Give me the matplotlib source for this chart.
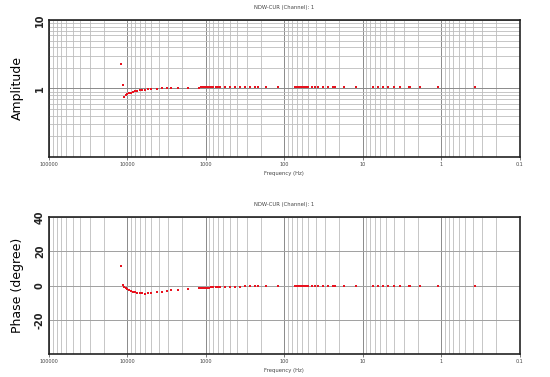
import numpy as np
import matplotlib
matplotlib.use("Agg")
import matplotlib.pyplot as plt
from matplotlib.ticker import LogLocator, FixedLocator, NullFormatter, FixedFormatter

# ---- data ----
freq = [12000, 11500,
        11000, 10500, 10000, 9500, 9000, 8500, 8000, 7500, 7000, 6500, 6000, 5500, 5000,
        4250, 3650, 3150, 2750, 2250, 1700, 1228,
        1150, 1100, 1050, 1000, 950, 900, 850, 800, 750, 700, 660,
        573, 494, 427, 369, 319, 275, 238, 216, 169, 120,
        74, 70, 67, 64, 61, 58, 55, 52, 50,
        45, 41, 37, 32.6, 27.7, 23.9, 22.3, 17.5, 12.3,
        7.4, 6.4, 5.5, 4.8, 4.0, 3.4, 2.57, 2.47, 1.88, 1.10, 0.367]

amplitude = [2.3, 1.12,
             0.76, 0.79, 0.82, 0.845, 0.865, 0.885, 0.905, 0.92, 0.935, 0.95, 0.96, 0.97, 0.98,
             0.99, 1.0, 1.0, 1.01, 1.01, 1.02, 1.03,
             1.04, 1.04, 1.05, 1.05, 1.05, 1.05, 1.05, 1.05, 1.05, 1.05, 1.05,
             1.05, 1.05, 1.05, 1.05, 1.05, 1.05, 1.05, 1.05, 1.05, 1.05,
             1.05, 1.05, 1.05, 1.05, 1.05, 1.05, 1.05, 1.05, 1.05,
             1.05, 1.05, 1.05, 1.05, 1.05, 1.05, 1.05, 1.05, 1.05,
             1.05, 1.05, 1.05, 1.05, 1.05, 1.05, 1.05, 1.05, 1.05, 1.05, 1.05]

phase = [11.3, 0.3,
         -0.6, -1.3, -2.0, -2.6, -3.1, -3.5, -3.9, -4.2, -4.4, -4.6, -4.7, -4.6, -4.4,
         -3.9, -3.5, -3.1, -2.7, -2.3, -1.9, -1.7,
         -1.6, -1.5, -1.4, -1.3, -1.2, -1.2, -1.1, -1.0, -1.0, -0.9, -0.9,
         -0.8, -0.7, -0.6, -0.55, -0.5, -0.45, -0.4, -0.35, -0.3, -0.2,
         -0.1, -0.1, -0.1, -0.1, -0.1, -0.1, -0.1, -0.1, -0.1,
         0, 0, 0, 0, 0, 0, 0, 0, 0,
         0, 0, 0, 0, 0, 0, 0, 0, 0, 0, 0]

x_ticks = [100000, 10000, 1000, 100, 10, 1, 0.1]
x_tick_labels = ["100000", "10000", "1000", "100", "10", "1", "0.1"]
title = "NDW-CUR (Channel): 1"

RED = "#e8121e"

fig = plt.figure(figsize=(5.5, 3.77), dpi=100)
ax1 = fig.add_axes([0.089, 0.584, 0.856, 0.363])
ax2 = fig.add_axes([0.089, 0.061, 0.856, 0.363])


def style_x(ax):
    ax.set_xscale("log")
    ax.set_xlim(100000, 0.1)
    ax.xaxis.set_major_locator(FixedLocator(x_ticks))
    ax.xaxis.set_major_formatter(FixedFormatter(x_tick_labels))
    ax.xaxis.set_minor_locator(LogLocator(base=10, subs=np.arange(2, 10), numticks=20))
    ax.xaxis.set_minor_formatter(NullFormatter())
    ax.tick_params(axis="x", which="major", labelsize=3.5, length=2, width=0.5, pad=1.5, colors="#444")
    ax.tick_params(axis="x", which="minor", length=0)
    ax.grid(True, which="major", axis="x", color="#8a8a8a", lw=0.7)
    ax.grid(True, which="minor", axis="x", color="#bdbdbd", lw=0.6)
    for s in ax.spines.values():
        s.set_linewidth(1.2)
        s.set_color("#222")
    ax.set_axisbelow(True)
    ax.set_xlabel("Frequency (Hz)", fontsize=3.8, color="#444", labelpad=3)
    ax.set_title(title, fontsize=3.8, color="#444", pad=8)


# ---- amplitude ----
ax1.plot(freq, amplitude, "s", color=RED, ms=1.9, mew=0)
ax1.set_yscale("log")
ax1.set_ylim(0.1, 10)
style_x(ax1)
ax1.yaxis.set_major_locator(FixedLocator([1, 10]))
ax1.yaxis.set_major_formatter(FixedFormatter(["1", "10"]))
ax1.yaxis.set_minor_locator(LogLocator(base=10, subs=np.arange(2, 10), numticks=20))
ax1.yaxis.set_minor_formatter(NullFormatter())
ax1.tick_params(axis="y", which="major", labelsize=7, length=0, pad=3, labelrotation=90, colors="#222")
ax1.tick_params(axis="y", which="minor", length=0)
for lab in ax1.get_yticklabels():
    lab.set_fontweight("bold")
    lab.set_va("center")
ax1.grid(True, which="major", axis="y", color="#8a8a8a", lw=0.7)
ax1.grid(True, which="minor", axis="y", color="#bdbdbd", lw=0.6)
ax1.set_ylabel("Amplitude", fontsize=9, labelpad=8)

# ---- phase ----
ax2.plot(freq, phase, "s", color=RED, ms=1.9, mew=0)
ax2.set_ylim(-40, 40)
style_x(ax2)
ax2.yaxis.set_major_locator(FixedLocator([-40, -20, 0, 20, 40]))
ax2.yaxis.set_major_formatter(FixedFormatter(["", "-20", "0", "20", "40"]))
ax2.tick_params(axis="y", which="major", labelsize=7, length=0, pad=3, labelrotation=90, colors="#222")
for lab in ax2.get_yticklabels():
    lab.set_fontweight("bold")
    lab.set_va("center")
ax2.grid(True, which="major", axis="y", color="#a0a0a0", lw=0.7)
ax2.set_ylabel("Phase (degree)", fontsize=9, labelpad=8)

fig.savefig("out.png", dpi=100)
